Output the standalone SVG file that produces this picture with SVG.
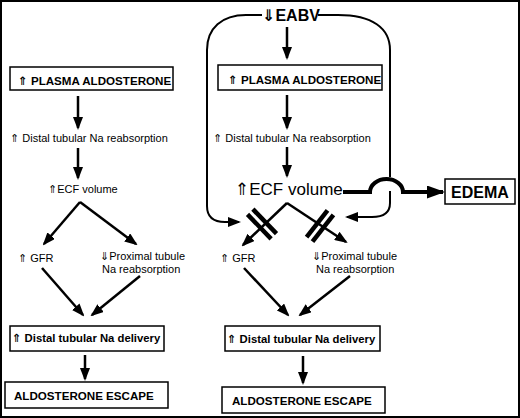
<svg xmlns="http://www.w3.org/2000/svg" width="520" height="418" viewBox="0 0 520 418">
<defs>
<style>
.t{font-family:"Liberation Sans",Arial,"DejaVu Sans",sans-serif;font-size:11px;fill:#000}
.b{font-weight:bold}
.l{font-size:11.6px}
.box{fill:#fff;stroke:#000;stroke-width:1.5}
.c{fill:none;stroke:#000;stroke-width:2.5}
.thin{fill:none;stroke:#000;stroke-width:2}
.thick{fill:none;stroke:#000;stroke-width:4}
.bar{fill:#000}
</style>
<marker id="ah" markerUnits="userSpaceOnUse" markerWidth="13" markerHeight="10" refX="11" refY="5" orient="auto">
<path d="M0,0 L13,5 L0,10 z" fill="#000"/>
</marker>
<marker id="ahb" markerUnits="userSpaceOnUse" markerWidth="18" markerHeight="13" refX="16" refY="6.5" orient="auto">
<path d="M0,0 L18,6.5 L0,13 z" fill="#000"/>
</marker>
</defs>
<rect x="1" y="1" width="518" height="416" fill="#fff" stroke="#000" stroke-width="2"/>

<g id="connectors">
<!-- left column -->
<path class="c" d="M78,96 V128" marker-end="url(#ah)"/>
<path class="c" d="M78,148 V178" marker-end="url(#ah)"/>
<path class="c" d="M80,202 L44,244" marker-end="url(#ah)"/>
<path class="c" d="M80,202 L136,244" marker-end="url(#ah)"/>
<path class="c" d="M42,268 L83,315" marker-end="url(#ah)"/>
<path class="c" d="M140,276 L92,315" marker-end="url(#ah)"/>
<path class="c" d="M85,355 V379" marker-end="url(#ah)"/>
<!-- right column -->
<path class="c" d="M287,27 V58" marker-end="url(#ah)"/>
<path class="c" d="M287,95 V128" marker-end="url(#ah)"/>
<path class="c" d="M287,147 V176" marker-end="url(#ah)"/>
<path class="c" d="M287,203 L243,245" marker-end="url(#ah)"/>
<path class="c" d="M287,203 L346,242" marker-end="url(#ah)"/>
<path class="c" d="M244,268 L288,315" marker-end="url(#ah)"/>
<path class="c" d="M350,276 L300,315" marker-end="url(#ah)"/>
<path class="c" d="M303,356 V383" marker-end="url(#ah)"/>
<!-- loop from EABV -->
<path class="thin" d="M262,15 H246 C222,15 207,28 207,50 V206 C207,217 213,222 225,222 H239" marker-end="url(#ah)"/>
<path class="thin" d="M318,15 H338 C372,15 390,28 390,50 V177"/>
<path class="thin" d="M390,191 V203 C390,213 384,217 372,217 H347" marker-end="url(#ah)"/>
<!-- to edema with jump -->
<path class="thick" d="M343,192 H370 A16.5,13 0 0 1 403,192 H443" marker-end="url(#ahb)"/>
<!-- block bars -->
<g transform="translate(262,224) rotate(46)">
<rect class="bar" x="-17" y="-6" width="34" height="4.5"/>
<rect class="bar" x="-17" y="1.5" width="34" height="4.5"/>
</g>
<g transform="translate(320,226) rotate(-52)">
<rect class="bar" x="-17" y="-6" width="34" height="4.5"/>
<rect class="bar" x="-17" y="1.5" width="34" height="4.5"/>
</g>
</g>

<g id="left-plasma-aldosterone">
<rect class="box" x="10" y="67" width="163" height="23"/>
<text class="t b l" x="18" y="85">⇑ PLASMA ALDOSTERONE</text>
</g>
<g id="left-distal-reabsorption">
<text class="t" x="10" y="142">⇑ Distal tubular Na reabsorption</text>
</g>
<g id="left-ecf-volume">
<text class="t" x="48" y="193">⇑ECF volume</text>
</g>
<g id="left-gfr">
<text class="t" x="18" y="262">⇑ GFR</text>
</g>
<g id="left-proximal">
<text class="t" x="100" y="260">⇓Proximal tubule</text>
<text class="t" x="102" y="273">Na reabsorption</text>
</g>
<g id="left-distal-delivery">
<rect class="box" x="10" y="326" width="154" height="25"/>
<text class="t b" x="12" y="342" style="font-size:11.3px">⇑ Distal tubular Na delivery</text>
</g>
<g id="left-escape">
<rect class="box" x="5" y="382" width="163" height="26"/>
<text class="t b l" x="14" y="400">ALDOSTERONE ESCAPE</text>
</g>

<g id="eabv">
<text class="t b" x="262" y="21" style="font-size:16px">⇓EABV</text>
</g>
<g id="right-plasma-aldosterone">
<rect class="box" x="218" y="65" width="164" height="25"/>
<text class="t b l" x="228" y="84">⇑ PLASMA ALDOSTERONE</text>
</g>
<g id="right-distal-reabsorption">
<text class="t" x="213" y="142">⇑ Distal tubular Na reabsorption</text>
</g>
<g id="right-ecf-volume">
<text class="t" x="235" y="195" style="font-size:17px">⇑ECF volume</text>
</g>
<g id="edema">
<rect class="box" x="445" y="179" width="70" height="25"/>
<text class="t b" x="480" y="198" text-anchor="middle" style="font-size:16px">EDEMA</text>
</g>
<g id="right-gfr">
<text class="t" x="220" y="262">⇑ GFR</text>
</g>
<g id="right-proximal">
<text class="t" x="312" y="260">⇓Proximal tubule</text>
<text class="t" x="316" y="273">Na reabsorption</text>
</g>
<g id="right-distal-delivery">
<rect class="box" x="225" y="326" width="155" height="25"/>
<text class="t b" x="227" y="343" style="font-size:11.3px">⇑ Distal tubular Na delivery</text>
</g>
<g id="right-escape">
<rect class="box" x="222" y="387" width="163" height="26"/>
<text class="t b l" x="232" y="405">ALDOSTERONE ESCAPE</text>
</g>
</svg>
